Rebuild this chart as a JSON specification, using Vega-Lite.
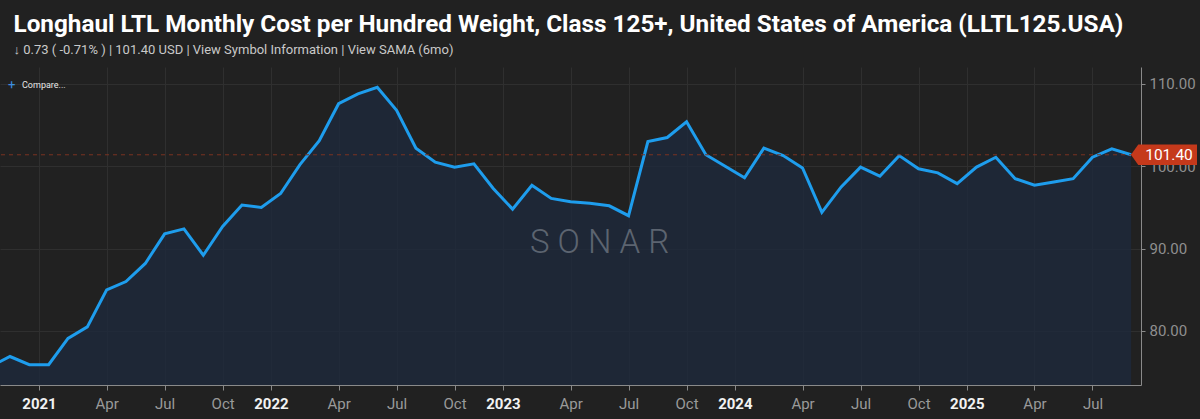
{
  "$schema": "https://vega.github.io/schema/vega-lite/v6.json",
  "width": 1141,
  "height": 318,
  "autosize": {"type": "none"},
  "padding": {"left": 0, "top": 67, "right": 59, "bottom": 34},
  "background": "#212121",
  "config": {"view": {"stroke": null}, "font": "Roboto"},
  "title": {
    "text": "Longhaul LTL Monthly Cost per Hundred Weight, Class 125+, United States of America (LLTL125.USA)",
    "subtitle": "↓ 0.73 ( -0.71% )  |  101.40 USD  |  View Symbol Information  |  View SAMA (6mo)",
    "anchor": "start",
    "dx": 14,
    "offset": 10,
    "font": "Roboto",
    "fontSize": 24.3,
    "fontWeight": "bold",
    "color": "#ffffff",
    "subtitleFont": "Roboto",
    "subtitleFontSize": 13,
    "subtitleColor": "#c9c9c9",
    "subtitlePadding": 7
  },
  "data": {
    "values": [
      {"month": "2020-10", "i": -1, "value": 75.7},
      {"month": "2020-11", "i": 0, "value": 76.9},
      {"month": "2020-12", "i": 1, "value": 75.9},
      {"month": "2021-01", "i": 2, "value": 75.9},
      {"month": "2021-02", "i": 3, "value": 79.1},
      {"month": "2021-03", "i": 4, "value": 80.5},
      {"month": "2021-04", "i": 5, "value": 85.0},
      {"month": "2021-05", "i": 6, "value": 86.0},
      {"month": "2021-06", "i": 7, "value": 88.2},
      {"month": "2021-07", "i": 8, "value": 91.8},
      {"month": "2021-08", "i": 9, "value": 92.4},
      {"month": "2021-09", "i": 10, "value": 89.2},
      {"month": "2021-10", "i": 11, "value": 92.7},
      {"month": "2021-11", "i": 12, "value": 95.3},
      {"month": "2021-12", "i": 13, "value": 95.0},
      {"month": "2022-01", "i": 14, "value": 96.7},
      {"month": "2022-02", "i": 15, "value": 100.2},
      {"month": "2022-03", "i": 16, "value": 103.1},
      {"month": "2022-04", "i": 17, "value": 107.6},
      {"month": "2022-05", "i": 18, "value": 108.8},
      {"month": "2022-06", "i": 19, "value": 109.6},
      {"month": "2022-07", "i": 20, "value": 106.8},
      {"month": "2022-08", "i": 21, "value": 102.2},
      {"month": "2022-09", "i": 22, "value": 100.5},
      {"month": "2022-10", "i": 23, "value": 99.9},
      {"month": "2022-11", "i": 24, "value": 100.3},
      {"month": "2022-12", "i": 25, "value": 97.3},
      {"month": "2023-01", "i": 26, "value": 94.8},
      {"month": "2023-02", "i": 27, "value": 97.7},
      {"month": "2023-03", "i": 28, "value": 96.1},
      {"month": "2023-04", "i": 29, "value": 95.7},
      {"month": "2023-05", "i": 30, "value": 95.5},
      {"month": "2023-06", "i": 31, "value": 95.2},
      {"month": "2023-07", "i": 32, "value": 94.0},
      {"month": "2023-08", "i": 33, "value": 103.0},
      {"month": "2023-09", "i": 34, "value": 103.5},
      {"month": "2023-10", "i": 35, "value": 105.4},
      {"month": "2023-11", "i": 36, "value": 101.4},
      {"month": "2023-12", "i": 37, "value": 100.0},
      {"month": "2024-01", "i": 38, "value": 98.6},
      {"month": "2024-02", "i": 39, "value": 102.2},
      {"month": "2024-03", "i": 40, "value": 101.3},
      {"month": "2024-04", "i": 41, "value": 99.8},
      {"month": "2024-05", "i": 42, "value": 94.4},
      {"month": "2024-06", "i": 43, "value": 97.5},
      {"month": "2024-07", "i": 44, "value": 99.9},
      {"month": "2024-08", "i": 45, "value": 98.8},
      {"month": "2024-09", "i": 46, "value": 101.3},
      {"month": "2024-10", "i": 47, "value": 99.7},
      {"month": "2024-11", "i": 48, "value": 99.2},
      {"month": "2024-12", "i": 49, "value": 97.9},
      {"month": "2025-01", "i": 50, "value": 99.9},
      {"month": "2025-02", "i": 51, "value": 101.1},
      {"month": "2025-03", "i": 52, "value": 98.5},
      {"month": "2025-04", "i": 53, "value": 97.7},
      {"month": "2025-05", "i": 54, "value": 98.1},
      {"month": "2025-06", "i": 55, "value": 98.5},
      {"month": "2025-07", "i": 56, "value": 101.1},
      {"month": "2025-08", "i": 57, "value": 102.13},
      {"month": "2025-09", "i": 58, "value": 101.4}
    ]
  },
  "layer": [
    {
      "mark": {"type": "area", "clip": true, "color": "#1d2a3e", "opacity": 0.75},
      "encoding": {
        "x": {
          "field": "i",
          "type": "quantitative",
          "scale": {"domain": [-0.517, 58.51], "nice": false, "zero": false},
          "axis": {
            "values": [1.5, 5, 8, 11, 13.5, 17, 20, 23, 25.5, 29, 32, 35, 37.5, 41, 44, 47, 49.5, 53, 56],
            "labelExpr": "datum.value % 12 == 1.5 ? '' + (2021 + floor(datum.value / 12)) : datum.value % 12 == 5 ? 'Apr' : datum.value % 12 == 8 ? 'Jul' : 'Oct'",
            "labelColor": {"condition": {"test": "datum.value % 12 == 1.5", "value": "#f2f2f2"}, "value": "#9a9a9a"},
            "labelFontWeight": {"condition": {"test": "datum.value % 12 == 1.5", "value": "bold"}, "value": "normal"},
            "labelFontSize": 15,
            "labelPadding": 6,
            "labelFlush": false,
            "labelOverlap": false,
            "tickSize": 5,
            "tickColor": "#8a8a8a",
            "domainColor": "#8a8a8a",
            "grid": true,
            "gridColor": "#2f2f2f",
            "title": null
          }
        },
        "y": {
          "field": "value",
          "type": "quantitative",
          "scale": {"domain": [73.44, 112.06], "nice": false, "zero": false},
          "axis": {
            "orient": "right",
            "values": [80, 90, 100, 110],
            "format": ".2f",
            "labelFontSize": 15,
            "labelColor": "#8f8f8f",
            "labelPadding": 4,
            "tickSize": 4,
            "tickColor": "#8a8a8a",
            "domainColor": "#8a8a8a",
            "grid": true,
            "gridColor": "#2f2f2f",
            "title": null
          }
        }
      }
    },
    {
      "mark": {"type": "line", "clip": true, "color": "#1e9ded", "strokeWidth": 3},
      "encoding": {
        "x": {"field": "i", "type": "quantitative"},
        "y": {"field": "value", "type": "quantitative"}
      }
    },
    {
      "data": {"values": [{"level": 101.4}]},
      "layer": [
        {
          "mark": {"type": "rule", "color": "#7a3322", "strokeDash": [4, 4], "strokeWidth": 1},
          "encoding": {"y": {"field": "level", "type": "quantitative"}}
        },
        {
          "mark": {"type": "point", "filled": true, "opacity": 1, "color": "#c5391b", "size": 4356, "shape": "M-1,0 L-0.78,-0.31 L1,-0.31 L1,0.31 L-0.78,0.31 Z"},
          "encoding": {
            "x": {"datum": 59.7},
            "y": {"field": "level", "type": "quantitative"}
          }
        },
        {
          "mark": {"type": "text", "color": "#ffffff", "fontSize": 15.5, "align": "center", "baseline": "middle", "dx": 5},
          "encoding": {
            "x": {"datum": 59.7},
            "y": {"field": "level", "type": "quantitative"},
            "text": {"field": "level", "type": "quantitative", "format": ".2f"}
          }
        }
      ]
    },
    {
      "data": {"values": [{"mark": "SONAR"}]},
      "mark": {"type": "text", "color": "#5c6470", "fontSize": 33, "fontWeight": 300, "align": "center", "baseline": "middle"},
      "encoding": {
        "x": {"datum": 30.5},
        "y": {"datum": 90.7},
        "text": {"value": "S O N A R"}
      }
    },
    {
      "data": {"values": [{"a": 1}]},
      "layer": [
        {
          "mark": {"type": "text", "color": "#3d8fe0", "fontSize": 13, "align": "left", "baseline": "middle", "dx": 8, "dy": 18},
          "encoding": {"x": {"datum": -0.517}, "y": {"datum": 112.06}, "text": {"value": "+"}}
        },
        {
          "mark": {"type": "text", "color": "#e6e6e6", "fontSize": 9, "align": "left", "baseline": "middle", "dx": 22, "dy": 18},
          "encoding": {"x": {"datum": -0.517}, "y": {"datum": 112.06}, "text": {"value": "Compare..."}}
        }
      ]
    }
  ]
}
